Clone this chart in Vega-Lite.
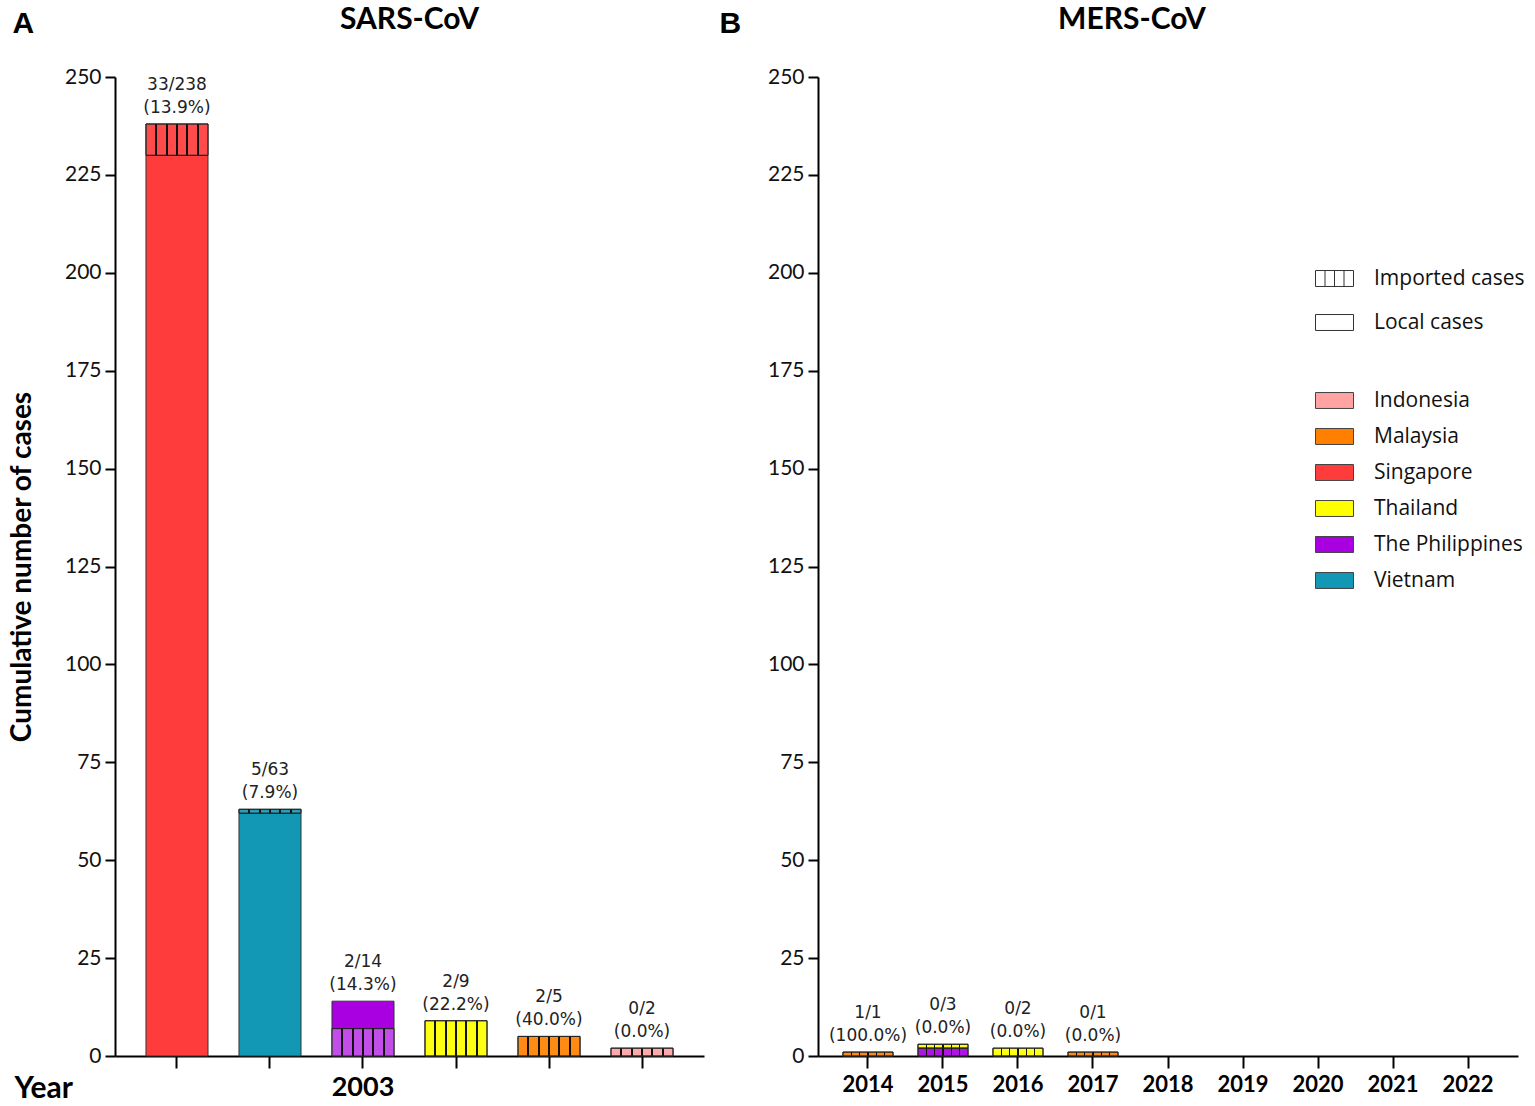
{
  "$schema": "https://vega.github.io/schema/vega-lite/v6.json",
  "padding": {"left": 8, "top": 5, "right": 4, "bottom": 4},
  "datasets": {
    "sars": [
      {"country": "Singapore", "type": "Local cases", "low": 0, "high": 230},
      {"country": "Singapore", "type": "Imported cases", "low": 230, "high": 238},
      {"country": "Vietnam", "type": "Local cases", "low": 0, "high": 62},
      {"country": "Vietnam", "type": "Imported cases", "low": 62, "high": 63},
      {"country": "The Philippines", "type": "Imported cases", "low": 0, "high": 7},
      {"country": "The Philippines", "type": "Local cases", "low": 7, "high": 14},
      {"country": "Thailand", "type": "Imported cases", "low": 0, "high": 9},
      {"country": "Malaysia", "type": "Imported cases", "low": 0, "high": 5},
      {"country": "Indonesia", "type": "Imported cases", "low": 0, "high": 2}
    ],
    "sars_labels": [
      {"country": "Singapore", "total": 238, "label": "33/238\n(13.9%)"},
      {"country": "Vietnam", "total": 63, "label": "5/63\n(7.9%)"},
      {"country": "The Philippines", "total": 14, "label": "2/14\n(14.3%)"},
      {"country": "Thailand", "total": 9, "label": "2/9\n(22.2%)"},
      {"country": "Malaysia", "total": 5, "label": "2/5\n(40.0%)"},
      {"country": "Indonesia", "total": 2, "label": "0/2\n(0.0%)"}
    ],
    "mers": [
      {"year": "2014", "country": "Malaysia", "type": "Imported cases", "low": 0, "high": 1},
      {"year": "2015", "country": "The Philippines", "type": "Imported cases", "low": 0, "high": 2},
      {"year": "2015", "country": "Thailand", "type": "Imported cases", "low": 2, "high": 3},
      {"year": "2016", "country": "Thailand", "type": "Imported cases", "low": 0, "high": 2},
      {"year": "2017", "country": "Malaysia", "type": "Imported cases", "low": 0, "high": 1}
    ],
    "mers_labels": [
      {"year": "2014", "total": 1, "label": "1/1\n(100.0%)"},
      {"year": "2015", "total": 3, "label": "0/3\n(0.0%)"},
      {"year": "2016", "total": 2, "label": "0/2\n(0.0%)"},
      {"year": "2017", "total": 1, "label": "0/1\n(0.0%)"}
    ]
  },
  "spacing": 15,
  "resolve": {"scale": {"fill": "independent", "shape": "independent"}},
  "hconcat": [
    {
      "title": {"text": "A", "anchor": "start", "frame": "bounds", "font": "Liberation Sans", "fontSize": 30, "fontWeight": "bold", "dy": 38, "dx": 4},
      "vconcat": [
        {
          "title": {"text": "SARS-CoV", "fontSize": 30, "offset": 31},
          "width": 589,
          "height": 979,
          "layer": [
            {
              "data": {"name": "sars"},
              "mark": {"type": "bar", "stroke": "#333", "strokeWidth": 1},
              "encoding": {
                "x": {
                  "field": "country", "type": "nominal",
                  "scale": {"domain": ["Singapore", "Vietnam", "The Philippines", "Thailand", "Malaysia", "Indonesia"], "paddingInner": 0.333, "paddingOuter": 0.333},
                  "axis": {"title": "Year", "labelExpr": "datum.value === 'The Philippines' ? '2003' : ''", "labelAngle": 0, "labelFontSize": 27, "labelFontWeight": "bold", "labelColor": "#000", "labelPadding": 6, "tickSize": 12, "titleFontSize": 30, "titleX": -101, "titleY": 32, "titleAlign": "left", "titleBaseline": "middle", "titleAnchor": "start"}
                },
                "y": {
                  "field": "low", "type": "quantitative",
                  "scale": {"domain": [0, 250], "nice": false},
                  "axis": {"title": "Cumulative number of cases", "values": [0, 25, 50, 75, 100, 125, 150, 175, 200, 225, 250], "titleFontSize": 28, "titlePadding": 28, "labelFontSize": 21, "tickSize": 10, "labelPadding": 4}
                },
                "y2": {"field": "high"},
                "fill": {
                  "field": "country", "type": "nominal",
                  "scale": {"domain": ["Indonesia", "Malaysia", "Singapore", "Thailand", "The Philippines", "Vietnam"], "range": ["#ffa3a3", "#ff8000", "#ff3c3c", "#ffff00", "#a800e0", "#1298b5"]},
                  "legend": null
                }
              }
            },
            {
              "data": {"name": "sars"},
              "transform": [{"filter": "datum.type === 'Imported cases'"}],
              "mark": {"type": "bar", "stroke": "#222", "strokeWidth": 1},
              "encoding": {
                "x": {"field": "country", "type": "nominal"},
                "y": {"field": "low", "type": "quantitative"},
                "y2": {"field": "high"},
                "fill": {
                  "condition": {
                    "test": "datum.country === 'The Philippines'",
                    "value": {"gradient": "linear", "x1": 0, "y1": 0, "x2": 1, "y2": 0, "stops": [
                      {"offset": 0, "color": "rgba(255,255,255,0.3)"},
                      {"offset": 0.151, "color": "rgba(255,255,255,0.3)"},
                      {"offset": 0.151, "color": "#111"},
                      {"offset": 0.183, "color": "#111"},
                      {"offset": 0.183, "color": "rgba(255,255,255,0.3)"},
                      {"offset": 0.317, "color": "rgba(255,255,255,0.3)"},
                      {"offset": 0.317, "color": "#111"},
                      {"offset": 0.349, "color": "#111"},
                      {"offset": 0.349, "color": "rgba(255,255,255,0.3)"},
                      {"offset": 0.484, "color": "rgba(255,255,255,0.3)"},
                      {"offset": 0.484, "color": "#111"},
                      {"offset": 0.516, "color": "#111"},
                      {"offset": 0.516, "color": "rgba(255,255,255,0.3)"},
                      {"offset": 0.651, "color": "rgba(255,255,255,0.3)"},
                      {"offset": 0.651, "color": "#111"},
                      {"offset": 0.683, "color": "#111"},
                      {"offset": 0.683, "color": "rgba(255,255,255,0.3)"},
                      {"offset": 0.817, "color": "rgba(255,255,255,0.3)"},
                      {"offset": 0.817, "color": "#111"},
                      {"offset": 0.849, "color": "#111"},
                      {"offset": 0.849, "color": "rgba(255,255,255,0.3)"},
                      {"offset": 1, "color": "rgba(255,255,255,0.3)"}
                    ]}
                  },
                  "value": {"gradient": "linear", "x1": 0, "y1": 0, "x2": 1, "y2": 0, "stops": [
                    {"offset": 0, "color": "rgba(255,255,255,0.08)"},
                    {"offset": 0.151, "color": "rgba(255,255,255,0.08)"},
                    {"offset": 0.151, "color": "#111"},
                    {"offset": 0.183, "color": "#111"},
                    {"offset": 0.183, "color": "rgba(255,255,255,0.08)"},
                    {"offset": 0.317, "color": "rgba(255,255,255,0.08)"},
                    {"offset": 0.317, "color": "#111"},
                    {"offset": 0.349, "color": "#111"},
                    {"offset": 0.349, "color": "rgba(255,255,255,0.08)"},
                    {"offset": 0.484, "color": "rgba(255,255,255,0.08)"},
                    {"offset": 0.484, "color": "#111"},
                    {"offset": 0.516, "color": "#111"},
                    {"offset": 0.516, "color": "rgba(255,255,255,0.08)"},
                    {"offset": 0.651, "color": "rgba(255,255,255,0.08)"},
                    {"offset": 0.651, "color": "#111"},
                    {"offset": 0.683, "color": "#111"},
                    {"offset": 0.683, "color": "rgba(255,255,255,0.08)"},
                    {"offset": 0.817, "color": "rgba(255,255,255,0.08)"},
                    {"offset": 0.817, "color": "#111"},
                    {"offset": 0.849, "color": "#111"},
                    {"offset": 0.849, "color": "rgba(255,255,255,0.08)"},
                    {"offset": 1, "color": "rgba(255,255,255,0.08)"}
                  ]}
                }
              }
            },
            {
              "data": {"name": "sars_labels"},
              "mark": {"type": "text", "baseline": "bottom", "dy": -30, "lineBreak": "\n", "font": "DejaVu Sans", "fontSize": 17, "lineHeight": 23, "color": "#222"},
              "encoding": {
                "x": {"field": "country", "type": "nominal"},
                "y": {"field": "total", "type": "quantitative"},
                "text": {"field": "label", "type": "nominal"}
              }
            }
          ]
        }
      ]
    },
    {
      "title": {"text": "B", "anchor": "start", "frame": "bounds", "font": "Liberation Sans", "fontSize": 30, "fontWeight": "bold", "dy": 38, "dx": -48},
      "vconcat": [
        {
          "title": {"text": "MERS-CoV", "fontSize": 30, "offset": 31, "dx": -36},
          "width": 700,
          "height": 979,
          "layer": [
            {
              "data": {"name": "mers"},
              "mark": {"type": "bar", "stroke": "#333", "strokeWidth": 1},
              "encoding": {
                "x": {
                  "field": "year", "type": "nominal",
                  "scale": {"domain": ["2014", "2015", "2016", "2017", "2018", "2019", "2020", "2021", "2022"], "paddingInner": 0.333, "paddingOuter": 0.333},
                  "axis": {"title": null, "labelAngle": 0, "labelFontSize": 22, "labelFontWeight": "bold", "labelColor": "#000", "labelPadding": 6, "tickSize": 12}
                },
                "y": {
                  "field": "low", "type": "quantitative",
                  "scale": {"domain": [0, 250], "nice": false},
                  "axis": {"title": null, "values": [0, 25, 50, 75, 100, 125, 150, 175, 200, 225, 250], "labelFontSize": 21, "tickSize": 10, "labelPadding": 4}
                },
                "y2": {"field": "high"},
                "fill": {
                  "field": "country", "type": "nominal",
                  "scale": {"domain": ["Indonesia", "Malaysia", "Singapore", "Thailand", "The Philippines", "Vietnam"], "range": ["#ffa3a3", "#ff8000", "#ff3c3c", "#ffff00", "#a800e0", "#1298b5"]},
                  "legend": {"orient": "none", "legendX": 497, "legendY": 304, "title": null, "symbolType": "M-1,-0.42H1V0.42H-1Z", "symbolSize": 1444, "symbolStrokeColor": "#444", "symbolStrokeWidth": 1, "labelFontSize": 21, "labelOffset": 20, "labelColor": "#111", "rowPadding": 6}
                }
              }
            },
            {
              "data": {"name": "mers"},
              "mark": {"type": "bar", "stroke": "#222", "strokeWidth": 1},
              "encoding": {
                "x": {"field": "year", "type": "nominal"},
                "y": {"field": "low", "type": "quantitative"},
                "y2": {"field": "high"},
                "fill": {
                  "value": {"gradient": "linear", "x1": 0, "y1": 0, "x2": 1, "y2": 0, "stops": [
                    {"offset": 0, "color": "rgba(255,255,255,0.08)"},
                    {"offset": 0.151, "color": "rgba(255,255,255,0.08)"},
                    {"offset": 0.151, "color": "#111"},
                    {"offset": 0.183, "color": "#111"},
                    {"offset": 0.183, "color": "rgba(255,255,255,0.08)"},
                    {"offset": 0.317, "color": "rgba(255,255,255,0.08)"},
                    {"offset": 0.317, "color": "#111"},
                    {"offset": 0.349, "color": "#111"},
                    {"offset": 0.349, "color": "rgba(255,255,255,0.08)"},
                    {"offset": 0.484, "color": "rgba(255,255,255,0.08)"},
                    {"offset": 0.484, "color": "#111"},
                    {"offset": 0.516, "color": "#111"},
                    {"offset": 0.516, "color": "rgba(255,255,255,0.08)"},
                    {"offset": 0.651, "color": "rgba(255,255,255,0.08)"},
                    {"offset": 0.651, "color": "#111"},
                    {"offset": 0.683, "color": "#111"},
                    {"offset": 0.683, "color": "rgba(255,255,255,0.08)"},
                    {"offset": 0.817, "color": "rgba(255,255,255,0.08)"},
                    {"offset": 0.817, "color": "#111"},
                    {"offset": 0.849, "color": "#111"},
                    {"offset": 0.849, "color": "rgba(255,255,255,0.08)"},
                    {"offset": 1, "color": "rgba(255,255,255,0.08)"}
                  ]}
                }
              }
            },
            {
              "data": {"name": "mers"},
              "mark": {"type": "point", "opacity": 0, "color": "#333"},
              "encoding": {
                "x": {"field": "year", "type": "nominal"},
                "y": {"field": "high", "type": "quantitative"},
                "shape": {
                  "field": "type", "type": "nominal",
                  "scale": {"domain": ["Imported cases", "Local cases"], "range": ["M-1,-0.42H1V0.42H-1Z M-0.5,-0.42V0.42 M0,-0.42V0.42 M0.5,-0.42V0.42", "M-1,-0.42H1V0.42H-1Z"]},
                  "legend": {"orient": "none", "legendX": 497, "legendY": 182, "title": null, "symbolSize": 1444, "symbolOpacity": 1, "symbolFillColor": "white", "symbolStrokeColor": "#333", "symbolStrokeWidth": 1, "labelFontSize": 21, "labelOffset": 20, "labelColor": "#111", "rowPadding": 14}
                }
              }
            },
            {
              "data": {"name": "mers_labels"},
              "mark": {"type": "text", "baseline": "bottom", "dy": -30, "lineBreak": "\n", "font": "DejaVu Sans", "fontSize": 17, "lineHeight": 23, "color": "#222"},
              "encoding": {
                "x": {"field": "year", "type": "nominal"},
                "y": {"field": "total", "type": "quantitative"},
                "text": {"field": "label", "type": "nominal"}
              }
            }
          ]
        }
      ]
    }
  ],
  "config": {
    "view": {"stroke": null},
    "axis": {"domainColor": "#000", "domainWidth": 2, "tickColor": "#000", "tickWidth": 2, "labelColor": "#111", "labelFont": "Lato", "titleFont": "Lato", "titleColor": "#000", "titleFontWeight": "bold", "grid": false},
    "title": {"font": "Lato", "fontWeight": "bold", "color": "#000"},
    "legend": {"labelFont": "Open Sans"}
  }
}
